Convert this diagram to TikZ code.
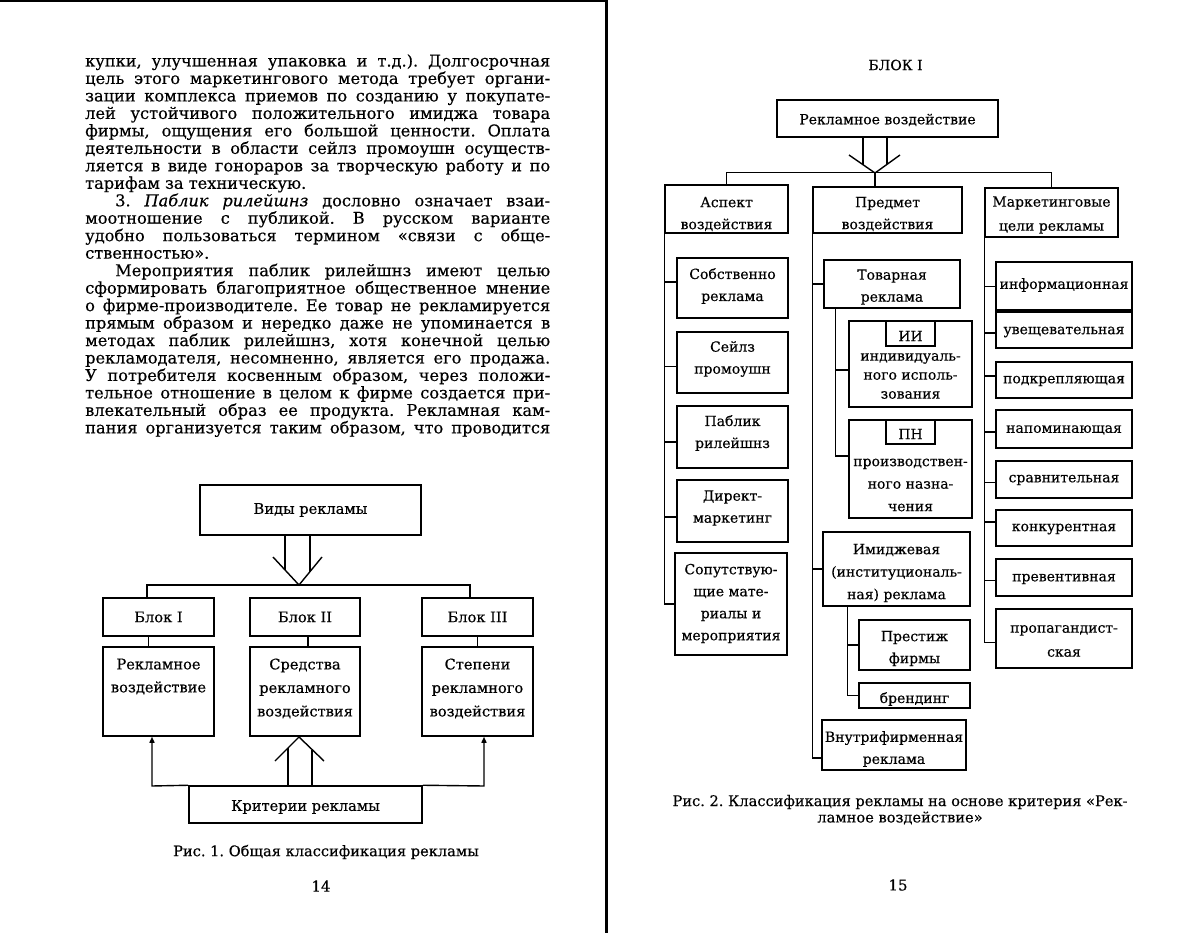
\documentclass[tikz,border=0pt]{standalone}
\usepackage{fontspec}
\setmainfont{DejaVu Serif}[FakeBold=0.35]
\usetikzlibrary{arrows.meta,fit,calc}
\frenchspacing
\newcommand\bodyfont{\fontsize{16.2}{17.47}\selectfont}
\newcommand\dgfont{\fontsize{14}{22}\selectfont}
\newcommand\ldfont{\fontsize{14.6}{22}\selectfont}
\newcommand\capfont{\fontsize{14.6}{16}\selectfont}
\newcommand\jl[1]{\makebox[465pt][s]{#1}}
\newcommand\jli[1]{\hspace*{30pt}\makebox[435pt][s]{#1}}
\newcommand\mybox[8]{%
  \node[box, fit={(#2,#3) (#4,#5)}] (#1) {};
  \node[txt,#7] (#1t) at ({(#2+#4)/2},#6) {#8};}
\begin{document}
\begin{tikzpicture}[x=1pt,y=-1pt,
  box/.style={draw, line width=1.5pt, inner sep=0pt},
  txt/.style={inner sep=0pt, align=center, font=\dgfont},
  ltxt/.style={font=\ldfont},
  ln/.style={line width=1.4pt},
  tip/.style={-{Triangle[length=6pt,width=5pt]}},
  captxt/.style={inner sep=0pt, align=center, font=\capfont}]
\useasboundingbox[fill=white] (0,0) rectangle (1200,933);
% page edges
\draw[line width=2pt] (0,1) -- (606,1);
\draw[line width=3pt] (606,0) -- (606,933);
% ---------- left page text
\node[anchor=base west, inner sep=0pt] (body) at (85,66.5) {\parbox[t]{465pt}{\bodyfont
\jl{купки, улучшенная упаковка и т.д.). Долгосрочная}\\
\jl{цель этого маркетингового метода требует органи-}\\
\jl{зации комплекса приемов по созданию у покупате-}\\
\jl{лей устойчивого положительного имиджа товара}\\
\jl{фирмы, ощущения его большой ценности. Оплата}\\
\jl{деятельности в области сейлз промоушн осуществ-}\\
\jl{ляется в виде гонораров за творческую работу и по}\\
тарифам за техническую.\\
\jli{3. \textit{Паблик рилейшнз} дословно означает взаи-}\\
\jl{моотношение с публикой. В русском варианте}\\
\jl{удобно пользоваться термином «связи с обще-}\\
ственностью».\\
\jli{Мероприятия паблик рилейшнз имеют целью}\\
\jl{сформировать благоприятное общественное мнение}\\
\jl{о фирме-производителе. Ее товар не рекламируется}\\
\jl{прямым образом и нередко даже не упоминается в}\\
\jl{методах паблик рилейшнз, хотя конечной целью}\\
\jl{рекламодателя, несомненно, является его продажа.}\\
\jl{У потребителя косвенным образом, через положи-}\\
\jl{тельное отношение в целом к фирме создается при-}\\
\jl{влекательный образ ее продукта. Рекламная кам-}\\
\jl{пания организуется таким образом, что проводится}}};
% ---------- left diagram
\mybox{vidy}{200}{485}{421}{535}{510}{ltxt}{Виды рекламы}
\mybox{b1}{103}{598}{214}{636}{617}{ltxt}{Блок I}
\mybox{b2}{250}{598}{360}{636}{617}{ltxt}{Блок II}
\mybox{b3}{422}{598}{533}{636}{617}{ltxt}{Блок III}
\mybox{c1}{103}{647}{214}{736}{676.5}{font=\fontsize{14.6}{23}\selectfont}{Рекламное\\воздействие}
\mybox{c2}{250}{647}{360}{736}{688.5}{font=\fontsize{14.6}{23.5}\selectfont}{Средства\\рекламного\\воздействия}
\mybox{c3}{422}{647}{533}{736}{688.5}{font=\fontsize{14.6}{23.5}\selectfont}{Степени\\рекламного\\воздействия}
\mybox{krit}{189}{786}{422}{823}{807}{ltxt}{Критерии рекламы}
% double arrow down
\coordinate (la) at (299,585);
\draw[ln] (vidy.south -| 285,0) -- (285,570);
\draw[ln] (vidy.south -| 310,0) -- (310,571.5);
\draw[ln] (273,557) -- (la) -- (322,557);
\coordinate (hl) at (147,585);
\coordinate (hr) at (470,585);
\draw[ln] (hl |- b1.north) -- (hl) -- (hr) -- (hr |- b3.north);
\draw[ln] ([xshift=-10pt]b1.south) -- ([xshift=-10pt]c1.north);
\draw[ln] ([xshift=3pt]b2.south) -- ([xshift=3pt]c2.north);
\draw[ln] (b3.south) -- (b3.south |- c3.north);
% criteria arrows
\coordinate (kl) at (152,786);
\coordinate (kr) at (484,786);
\draw[ln,tip] (krit.north west) -- (kl) -- (kl |- c1.south);
\draw[ln,tip] (krit.north east) -- (kr) -- (kr |- c3.south);
\coordinate (ua) at (299,737);
\draw[ln] (288,786) -- (288,748);
\draw[ln] (312,786) -- (312,749.5);
\draw[ln] (275,761) -- (ua) -- (324,761);
\node[captxt] (cap1) at (326,852) {Рис. 1. Общая классификация рекламы};
\node[captxt,font=\fontsize{15}{16}\selectfont] (p14) at (321,886) {14};
% ---------- right page
\node[captxt,font=\fontsize{14}{16}\selectfont] (blk) at (895.5,65) {БЛОК I};
\mybox{rv}{777}{100}{998}{137}{120}{}{Рекламное воздействие}
\mybox{asp}{665}{185}{788}{233}{214}{}{Аспект\\воздействия}
\mybox{pred}{813}{187}{962}{233}{214}{}{Предмет\\воздействия}
\mybox{mark}{985}{188}{1118}{237}{215}{font=\fontsize{14}{24}\selectfont}{Маркетинговые\\цели рекламы}
% left column
\mybox{sob}{677}{258}{788}{318}{286}{}{Собственно\\реклама}
\mybox{seil}{677}{332}{788}{393}{359}{}{Сейлз\\промоушн}
\mybox{pab}{677}{406}{788}{468}{433}{}{Паблик\\рилейшнз}
\mybox{dir}{677}{480}{788}{542}{508}{}{Директ-\\маркетинг}
\mybox{sop}{675}{553}{787}{655}{603.5}{}{Сопутствую-\\щие мате-\\риалы и\\мероприятия}
% middle column
\mybox{tov}{824}{260}{960}{308}{287}{}{Товарная\\реклама}
\mybox{ii}{849}{321}{972}{407}{376}{font=\fontsize{14}{19}\selectfont}{индивидуаль-\\ного исполь-\\зования}
\mybox{iitab}{886}{321}{935}{346}{336}{}{ИИ}
\mybox{pn}{849}{420}{972}{518}{485}{font=\fontsize{14}{22.5}\selectfont}{производствен-\\ного назна-\\чения}
\mybox{pntab}{886}{420}{935}{444}{434}{}{ПН}
\mybox{imid}{823}{532}{970}{606}{573}{font=\fontsize{14}{22.5}\selectfont}{Имиджевая\\(институциональ-\\ная) реклама}
\mybox{prest}{859}{620}{970}{670}{648.5}{}{Престиж\\фирмы}
\mybox{brend}{859}{683}{970}{708}{699}{}{брендинг}
\mybox{vnutr}{822}{720}{966}{770}{749}{}{Внутрифирменная\\реклама}
% right column
\mybox{inf}{996}{262}{1132}{310}{285}{}{информационная}
\mybox{uv}{996}{312}{1132}{348}{332}{}{увещевательная}
\mybox{podk}{996}{362}{1132}{398}{381}{}{подкрепляющая}
\mybox{nap}{996}{410}{1132}{448}{430}{}{напоминающая}
\mybox{srav}{996}{461}{1132}{498}{480}{}{сравнительная}
\mybox{konk}{996}{510}{1132}{546}{529}{}{конкурентная}
\mybox{prev}{996}{559}{1132}{596}{579}{}{превентивная}
\mybox{prop}{996}{609}{1132}{668}{641}{font=\fontsize{14}{24}\selectfont}{пропагандист-\\ская}
% top arrow
\coordinate (ra) at (875,173);
\draw[ln] (rv.south -| 863,0) -- (863,165);
\draw[ln] (rv.south -| 887,0) -- (887,164.5);
\draw[ln] (849,155) -- (ra) -- (900,155);
\draw[ln] (asp.north) -- ++(0,-12) -| (mark.north);
\draw[ln] (ra) -- (ra |- pred.north);
% left spine
\draw[ln] (asp.south west) |- (sop.west);
\foreach \n/\s in {sob/6,seil/-4,pab/-5,dir/-6}
  \draw[ln] ([yshift=\s pt]\n.west) -- ([yshift=\s pt]\n.west -| asp.south west);
% middle spine
\draw[ln] (pred.south west) |- ([yshift=-13pt]vnutr.west);
\draw[ln] (tov.west) -- (tov.west -| pred.south west);
\draw[ln] (imid.west) -- (imid.west -| pred.south west);
\coordinate (tsp) at ([xshift=12pt]tov.south west);
\draw[ln] (tsp) |- ([yshift=13pt]pn.west);
\draw[ln] ([yshift=-6pt]ii.west) -- ([yshift=-6pt]ii.west -| tsp);
\coordinate (isp) at ([xshift=25pt]imid.south west);
\draw[ln] (isp) |- (brend.west);
\draw[ln] (prest.west) -- (prest.west -| isp);
% right spine
\draw[ln] (mark.south west) |- ([yshift=-4pt]prop.west);
\draw[line width=0.8pt] (inf.west) -- (inf.west -| mark.south west);
\foreach \n/\s in {uv/-3,podk/4,nap/-3,srav/-3,konk/6,prev/-3}
  \draw[ln] ([yshift=\s pt]\n.west) -- ([yshift=\s pt]\n.west -| mark.south west);
% caption
\node[captxt] (cap2a) at (900,802) {Рис. 2. Классификация рекламы на основе критерия «Рек-};
\node[captxt] (cap2b) at (900,818) {ламное воздействие»};
\node[captxt,font=\fontsize{15}{16}\selectfont] (p15) at (898,885) {15};
\end{tikzpicture}
\end{document}
